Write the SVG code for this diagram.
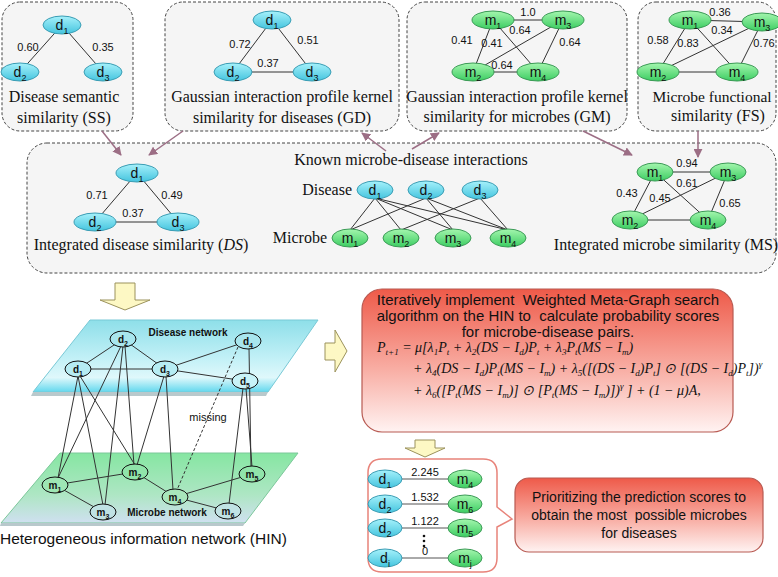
<svg xmlns="http://www.w3.org/2000/svg" width="778" height="577" viewBox="0 0 778 577">
<defs>
<linearGradient id="cy" x1="0" y1="0" x2="0" y2="1"><stop offset="0" stop-color="#a6f1fb"/><stop offset="1" stop-color="#44c4de"/></linearGradient>
<linearGradient id="gr" x1="0" y1="0" x2="0" y2="1"><stop offset="0" stop-color="#a4f6ae"/><stop offset="1" stop-color="#3ccd62"/></linearGradient>
<linearGradient id="dplane" x1="0" y1="0" x2="0" y2="1"><stop offset="0" stop-color="#8edfe9"/><stop offset="0.55" stop-color="#c4f1f7"/><stop offset="0.8" stop-color="#dff8fb"/><stop offset="1" stop-color="#62d8ee"/></linearGradient>
<linearGradient id="mplane" x1="0" y1="0" x2="0" y2="1"><stop offset="0" stop-color="#86e6a2"/><stop offset="0.6" stop-color="#aee6c4"/><stop offset="1" stop-color="#cfe0f0"/></linearGradient>
<linearGradient id="red" x1="0" y1="0" x2="0" y2="1"><stop offset="0" stop-color="#ee5a49"/><stop offset="0.55" stop-color="#f8aca2"/><stop offset="1" stop-color="#fff3f2"/></linearGradient>
<marker id="ah" viewBox="0 0 10 10" refX="9" refY="5" markerWidth="9" markerHeight="9" markerUnits="userSpaceOnUse" orient="auto"><path d="M0,0 L10,5 L0,10 Z" fill="#9c6e85"/></marker>
<style>
.box{fill:#f5f5f5;stroke:#444;stroke-width:1;stroke-dasharray:3 2}
.dn{fill:url(#cy);stroke:#3a9db4;stroke-width:1}
.mn{fill:url(#gr);stroke:#3a9a55;stroke-width:1}
.e{stroke:#333;stroke-width:1;fill:none}
.nl{font-family:"Liberation Sans",Arial,sans-serif;font-size:14px;text-anchor:middle;fill:#111}
.sb{font-size:9px;baseline-shift:-4px}
.w{font-family:"Liberation Sans",Arial,sans-serif;font-size:11px;fill:#111;text-anchor:middle}
.cap{font-family:"Liberation Serif","Times New Roman",serif;font-size:16px;text-anchor:middle;fill:#111}
.arr{stroke:#9c6e85;stroke-width:1.5;fill:none;marker-end:url(#ah)}
.ya{fill:#fdf8c4;stroke:#9b925c;stroke-width:1}
.hn{stroke:#111;stroke-width:1}
.hl{font-family:"Liberation Sans",Arial,sans-serif;font-size:10px;font-weight:bold;text-anchor:middle;fill:#111}
.hs{font-size:7px;baseline-shift:-3px}
.bt{font-family:"Liberation Sans",Arial,sans-serif;font-size:15px;text-anchor:middle;fill:#111;white-space:pre}
.mt{font-family:"Liberation Serif","Times New Roman",serif;font-style:italic;font-size:14px;fill:#111}
.ms{font-size:9px;baseline-shift:-3px}
.su{font-size:9px;baseline-shift:6px}
</style>
</defs>
<rect width="778" height="577" fill="#ffffff"/>

<!-- top boxes -->
<g id="box-ss"><rect class="box" x="2" y="2" width="131" height="129" rx="18"/>
<text class="cap" x="64" y="102">Disease semantic</text><text class="cap" x="64" y="123">similarity (SS)</text></g>
<g id="box-gd"><rect class="box" x="165" y="2" width="234" height="129" rx="18"/>
<text class="cap" x="282" y="102">Gaussian interaction profile kernel</text><text class="cap" x="282" y="123">similarity for diseases (GD)</text></g>
<g id="box-gm"><rect class="box" x="407" y="2" width="220" height="129" rx="18"/>
<text class="cap" x="517" y="102">Gaussian interaction profile kernel</text><text class="cap" x="517" y="122">similarity for microbes (GM)</text></g>
<g id="box-fs"><rect class="box" x="638" y="2" width="138" height="129" rx="18"/>
<text class="cap" x="712" y="102" style="font-size:15.5px">Microbe functional</text><text class="cap" x="718" y="121">similarity (FS)</text></g>
<g id="box-mid"><rect class="box" x="27" y="143" width="749" height="130" rx="20"/>
<text class="cap" x="411" y="165">Known microbe-disease interactions</text>
<text class="cap" x="352" y="195" style="text-anchor:end">Disease</text>
<text class="cap" x="327" y="243" style="text-anchor:end">Microbe</text>
<text class="cap" x="141" y="250">Integrated disease similarity (<tspan font-style="italic">DS</tspan>)</text>
<text class="cap" x="666" y="250">Integrated microbe similarity (MS)</text></g>

<!-- connectors -->
<g id="connectors">
<line class="e" x1="62" y1="25" x2="20" y2="72"/><line class="e" x1="62" y1="25" x2="103" y2="72"/>
<line class="e" x1="272" y1="20" x2="233" y2="72"/><line class="e" x1="272" y1="20" x2="312" y2="72"/><line class="e" x1="233" y1="72" x2="312" y2="72"/>
<line class="e" x1="493" y1="20" x2="563" y2="20"/><line class="e" x1="493" y1="20" x2="473" y2="72"/><line class="e" x1="493" y1="20" x2="538" y2="72"/><line class="e" x1="563" y1="20" x2="473" y2="72"/><line class="e" x1="563" y1="20" x2="538" y2="72"/><line class="e" x1="473" y1="72" x2="538" y2="72"/>
<line class="e" x1="690" y1="20" x2="762" y2="22"/><line class="e" x1="690" y1="20" x2="658" y2="72"/><line class="e" x1="690" y1="20" x2="737" y2="72"/><line class="e" x1="762" y1="22" x2="658" y2="72"/><line class="e" x1="762" y1="22" x2="737" y2="72"/><line class="e" x1="658" y1="72" x2="737" y2="72"/>
<line class="e" x1="137" y1="173" x2="95" y2="222"/><line class="e" x1="137" y1="173" x2="178" y2="222"/><line class="e" x1="95" y1="222" x2="178" y2="222"/>
<line class="e" x1="655" y1="172" x2="728" y2="172"/><line class="e" x1="655" y1="172" x2="630" y2="220"/><line class="e" x1="655" y1="172" x2="708" y2="220"/><line class="e" x1="728" y1="172" x2="630" y2="220"/><line class="e" x1="728" y1="172" x2="708" y2="220"/><line class="e" x1="630" y1="220" x2="708" y2="220"/>
<line class="e" x1="375" y1="198" x2="350" y2="230"/><line class="e" x1="375" y1="198" x2="401" y2="230"/><line class="e" x1="375" y1="198" x2="453" y2="230"/><line class="e" x1="375" y1="198" x2="508" y2="230"/>
<line class="e" x1="426" y1="198" x2="350" y2="230"/><line class="e" x1="426" y1="198" x2="453" y2="230"/><line class="e" x1="426" y1="198" x2="508" y2="230"/>
<line class="e" x1="480" y1="198" x2="401" y2="230"/><line class="e" x1="480" y1="198" x2="508" y2="230"/>
<line class="arr" x1="102" y1="131" x2="121" y2="155"/>
<line class="arr" x1="183" y1="131" x2="149" y2="155"/>
<line class="arr" x1="386" y1="151" x2="362" y2="133"/>
<line class="arr" x1="412" y1="149" x2="439" y2="133"/>
<line class="arr" x1="583" y1="131" x2="632" y2="155"/>
<line class="arr" x1="698" y1="131" x2="698" y2="157"/>
</g>

<!-- edge weights -->
<g id="weights">
<text class="w" x="28" y="51">0.60</text><text class="w" x="103" y="51">0.35</text>
<text class="w" x="240" y="48">0.72</text><text class="w" x="308" y="44">0.51</text><text class="w" x="268" y="67">0.37</text>
<text class="w" x="528" y="16">1.0</text><text class="w" x="520" y="34">0.64</text><text class="w" x="462" y="44">0.41</text><text class="w" x="492" y="47">0.41</text><text class="w" x="570" y="46">0.64</text><text class="w" x="502" y="69">0.64</text>
<text class="w" x="720" y="16">0.36</text><text class="w" x="722" y="34">0.34</text><text class="w" x="658" y="44">0.58</text><text class="w" x="688" y="47">0.83</text><text class="w" x="764" y="47">0.76</text>
<text class="w" x="97" y="199">0.71</text><text class="w" x="172" y="199">0.49</text><text class="w" x="133" y="217">0.37</text>
<text class="w" x="687" y="167">0.94</text><text class="w" x="687" y="187">0.61</text><text class="w" x="627" y="197">0.43</text><text class="w" x="660" y="202">0.45</text><text class="w" x="730" y="207">0.65</text>
</g>

<g id="ss-d1"><ellipse class="dn" cx="62" cy="25" rx="19" ry="9"/><text class="nl" x="62" y="30">d<tspan class="sb">1</tspan></text></g>
<g id="ss-d2"><ellipse class="dn" cx="20" cy="72" rx="19" ry="9"/><text class="nl" x="20" y="77">d<tspan class="sb">2</tspan></text></g>
<g id="ss-d3"><ellipse class="dn" cx="103" cy="72" rx="19" ry="9"/><text class="nl" x="103" y="77">d<tspan class="sb">3</tspan></text></g>
<g id="gd-d1"><ellipse class="dn" cx="272" cy="20" rx="19" ry="9"/><text class="nl" x="272" y="25">d<tspan class="sb">1</tspan></text></g>
<g id="gd-d2"><ellipse class="dn" cx="233" cy="72" rx="19" ry="9"/><text class="nl" x="233" y="77">d<tspan class="sb">2</tspan></text></g>
<g id="gd-d3"><ellipse class="dn" cx="312" cy="72" rx="19" ry="9"/><text class="nl" x="312" y="77">d<tspan class="sb">3</tspan></text></g>
<g id="gm-m1"><ellipse class="mn" cx="493" cy="20" rx="21" ry="9"/><text class="nl" x="493" y="25">m<tspan class="sb">1</tspan></text></g>
<g id="gm-m3"><ellipse class="mn" cx="563" cy="20" rx="21" ry="9"/><text class="nl" x="563" y="25">m<tspan class="sb">3</tspan></text></g>
<g id="gm-m2"><ellipse class="mn" cx="473" cy="72" rx="21" ry="9"/><text class="nl" x="473" y="77">m<tspan class="sb">2</tspan></text></g>
<g id="gm-m4"><ellipse class="mn" cx="538" cy="72" rx="21" ry="9"/><text class="nl" x="538" y="77">m<tspan class="sb">4</tspan></text></g>
<g id="fs-m1"><ellipse class="mn" cx="690" cy="20" rx="21" ry="9"/><text class="nl" x="690" y="25">m<tspan class="sb">1</tspan></text></g>
<g id="fs-m3"><ellipse class="mn" cx="762" cy="22" rx="20" ry="9"/><text class="nl" x="762" y="27">m<tspan class="sb">3</tspan></text></g>
<g id="fs-m2"><ellipse class="mn" cx="658" cy="72" rx="21" ry="9"/><text class="nl" x="658" y="77">m<tspan class="sb">2</tspan></text></g>
<g id="fs-m4"><ellipse class="mn" cx="737" cy="72" rx="21" ry="9"/><text class="nl" x="737" y="77">m<tspan class="sb">4</tspan></text></g>
<g id="ds-d1"><ellipse class="dn" cx="137" cy="173" rx="21" ry="9"/><text class="nl" x="137" y="178">d<tspan class="sb">1</tspan></text></g>
<g id="ds-d2"><ellipse class="dn" cx="95" cy="222" rx="21" ry="9"/><text class="nl" x="95" y="227">d<tspan class="sb">2</tspan></text></g>
<g id="ds-d3"><ellipse class="dn" cx="178" cy="222" rx="21" ry="9"/><text class="nl" x="178" y="227">d<tspan class="sb">3</tspan></text></g>
<g id="kn-d1"><ellipse class="dn" cx="375" cy="190" rx="18" ry="9"/><text class="nl" x="375" y="195">d<tspan class="sb">1</tspan></text></g>
<g id="kn-d2"><ellipse class="dn" cx="426" cy="190" rx="18" ry="9"/><text class="nl" x="426" y="195">d<tspan class="sb">2</tspan></text></g>
<g id="kn-d3"><ellipse class="dn" cx="480" cy="190" rx="18" ry="9"/><text class="nl" x="480" y="195">d<tspan class="sb">3</tspan></text></g>
<g id="kn-m1"><ellipse class="mn" cx="350" cy="238" rx="18" ry="9"/><text class="nl" x="350" y="243">m<tspan class="sb">1</tspan></text></g>
<g id="kn-m2"><ellipse class="mn" cx="401" cy="238" rx="18" ry="9"/><text class="nl" x="401" y="243">m<tspan class="sb">2</tspan></text></g>
<g id="kn-m3"><ellipse class="mn" cx="453" cy="238" rx="18" ry="9"/><text class="nl" x="453" y="243">m<tspan class="sb">3</tspan></text></g>
<g id="kn-m4"><ellipse class="mn" cx="508" cy="238" rx="18" ry="9"/><text class="nl" x="508" y="243">m<tspan class="sb">4</tspan></text></g>
<g id="ms-m1"><ellipse class="mn" cx="655" cy="172" rx="18" ry="9"/><text class="nl" x="655" y="177">m<tspan class="sb">1</tspan></text></g>
<g id="ms-m3"><ellipse class="mn" cx="728" cy="172" rx="18" ry="9"/><text class="nl" x="728" y="177">m<tspan class="sb">3</tspan></text></g>
<g id="ms-m2"><ellipse class="mn" cx="630" cy="220" rx="18" ry="9"/><text class="nl" x="630" y="225">m<tspan class="sb">2</tspan></text></g>
<g id="ms-m4"><ellipse class="mn" cx="708" cy="220" rx="18" ry="9"/><text class="nl" x="708" y="225">m<tspan class="sb">4</tspan></text></g>

<polygon id="arrow-down1" class="ya" points="115,283 135,283 135,300 150,300 125,310 100,300 115,300"/>
<polygon id="arrow-right" class="ya" points="325,343 335,343 335,330 347,351 335,372 335,360 325,360"/>
<polygon id="arrow-down2" class="ya" points="415,440 435,440 435,448 445,448 425,457 405,448 415,448"/>

<g id="hin">
<polygon points="90,320 318,320 268,392 33,392" fill="url(#dplane)" stroke="#79c9d6" stroke-width="1"/>
<polygon points="33,392 268,392 266,396 31,396" fill="#b9c9cc"/>
<polygon points="60,453 298,453 245,523 1,523" fill="url(#mplane)" stroke="#7cc79a" stroke-width="1"/>
<polygon points="1,523 245,523 243,526 0,526" fill="#b8c8cc"/>
<text class="hl" x="188" y="336">Disease network</text>
<text class="hl" x="167" y="516">Microbe network</text>
<text x="208" y="421" style="font-family:'Liberation Sans',Arial,sans-serif;font-size:11px;text-anchor:middle;fill:#111">missing</text>
</g>
<g id="hin-connectors">
<line class="e" x1="78" y1="369" x2="123" y2="339"/><line class="e" x1="123" y1="339" x2="165" y2="369"/><line class="e" x1="78" y1="369" x2="165" y2="369"/><line class="e" x1="165" y1="369" x2="248" y2="341"/><line class="e" x1="165" y1="369" x2="245" y2="381"/>
<line class="e" x1="55" y1="485" x2="135" y2="472"/><line class="e" x1="55" y1="485" x2="103" y2="512"/><line class="e" x1="135" y1="472" x2="175" y2="497"/><line class="e" x1="175" y1="497" x2="252" y2="474"/><line class="e" x1="175" y1="497" x2="228" y2="511"/>
<line class="e" x1="78" y1="376" x2="58" y2="478"/><line class="e" x1="78" y1="376" x2="103" y2="505"/><line class="e" x1="80" y1="376" x2="135" y2="465"/>
<line class="e" x1="121" y1="346" x2="58" y2="478"/><line class="e" x1="123" y1="346" x2="105" y2="505"/><line class="e" x1="125" y1="346" x2="134" y2="465"/>
<line class="e" x1="164" y1="376" x2="137" y2="465"/><line class="e" x1="166" y1="376" x2="173" y2="490"/>
<line class="e" x1="249" y1="348" x2="251" y2="467"/><line class="e" x1="246" y1="388" x2="252" y2="467"/><line class="e" x1="243" y1="388" x2="229" y2="504"/>
<line x1="238" y1="347" x2="177" y2="490" stroke="#333" stroke-width="1" stroke-dasharray="3 2"/>
</g>
<g id="hin-nodes">
<g id="h-d1"><ellipse class="hn" cx="78" cy="369" rx="13" ry="8" fill="#b6ecf3"/><text class="hl" x="78" y="373">d<tspan class="hs">1</tspan></text></g>
<g id="h-d2"><ellipse class="hn" cx="123" cy="339" rx="13" ry="8" fill="#a8e6ee"/><text class="hl" x="123" y="343">d<tspan class="hs">2</tspan></text></g>
<g id="h-d3"><ellipse class="hn" cx="165" cy="369" rx="13" ry="8" fill="#b6ecf3"/><text class="hl" x="165" y="373">d<tspan class="hs">3</tspan></text></g>
<g id="h-d4"><ellipse class="hn" cx="248" cy="341" rx="13" ry="8" fill="#a8e6ee"/><text class="hl" x="248" y="345">d<tspan class="hs">4</tspan></text></g>
<g id="h-d5"><ellipse class="hn" cx="245" cy="381" rx="13" ry="8" fill="#c8f3f8"/><text class="hl" x="245" y="385">d<tspan class="hs">5</tspan></text></g>
<g id="h-m1"><ellipse class="hn" cx="55" cy="485" rx="13" ry="8" fill="#9ee6b4"/><text class="hl" x="55" y="489">m<tspan class="hs">1</tspan></text></g>
<g id="h-m2"><ellipse class="hn" cx="135" cy="472" rx="13" ry="8" fill="#90e4aa"/><text class="hl" x="135" y="476">m<tspan class="hs">2</tspan></text></g>
<g id="h-m3"><ellipse class="hn" cx="103" cy="512" rx="13" ry="8" fill="#c0e2e4"/><text class="hl" x="103" y="516">m<tspan class="hs">3</tspan></text></g>
<g id="h-m4"><ellipse class="hn" cx="175" cy="497" rx="13" ry="8" fill="#a8e6bc"/><text class="hl" x="175" y="501">m<tspan class="hs">4</tspan></text></g>
<g id="h-m5"><ellipse class="hn" cx="252" cy="474" rx="13" ry="8" fill="#90e4aa"/><text class="hl" x="252" y="478">m<tspan class="hs">5</tspan></text></g>
<g id="h-m6"><ellipse class="hn" cx="228" cy="511" rx="13" ry="8" fill="#c0e2e4"/><text class="hl" x="228" y="515">m<tspan class="hs">6</tspan></text></g>
</g>
<text x="0" y="544" style="font-family:'Liberation Sans',Arial,sans-serif;font-size:15.5px;fill:#111">Heterogeneous information network (HIN)</text>

<g id="wmg-box">
<rect x="362" y="289" width="371" height="143" rx="20" fill="url(#red)" stroke="#b85a52" stroke-width="1.2"/>
<text class="bt" x="548" y="305" xml:space="preserve">Iteratively implement  Weighted Meta-Graph search</text>
<text class="bt" x="548" y="321" xml:space="preserve">algorithm on the HIN to  calculate probability scores</text>
<text class="bt" x="548" y="337">for microbe-disease pairs.</text>
<text class="mt" x="377" y="352">P<tspan class="ms">t+1</tspan> = μ[λ<tspan class="ms">1</tspan>P<tspan class="ms">t</tspan> + λ<tspan class="ms">2</tspan>(DS − I<tspan class="ms">d</tspan>)P<tspan class="ms">t</tspan> + λ<tspan class="ms">3</tspan>P<tspan class="ms">t</tspan>(MS − I<tspan class="ms">m</tspan>)</text>
<text class="mt" x="413" y="373">+ λ<tspan class="ms">4</tspan>(DS − I<tspan class="ms">d</tspan>)P<tspan class="ms">t</tspan>(MS − I<tspan class="ms">m</tspan>) + λ<tspan class="ms">5</tspan>([(DS − I<tspan class="ms">d</tspan>)P<tspan class="ms">t</tspan>] ⊙ [(DS − I<tspan class="ms">d</tspan>)P<tspan class="ms">t</tspan>])<tspan class="su">γ</tspan></text>
<text class="mt" x="413" y="395">+ λ<tspan class="ms">6</tspan>([P<tspan class="ms">t</tspan>(MS − I<tspan class="ms">m</tspan>)] ⊙ [P<tspan class="ms">t</tspan>(MS − I<tspan class="ms">m</tspan>)])<tspan class="su">γ</tspan> ] + (1 − μ)A,</text>
</g>

<g id="rank-list">
<path d="M382,459 H483 Q497,459 497,473 V507 L512,519 L497,527 V558 Q497,572 483,572 H382 Q368,572 368,558 V473 Q368,459 382,459 Z" fill="#ffffff" stroke="#e8837a" stroke-width="1.5"/>
<line x1="400" y1="479" x2="450" y2="479" stroke="#555" stroke-width="1"/>
<line x1="400" y1="504" x2="450" y2="504" stroke="#555" stroke-width="1"/>
<line x1="400" y1="528" x2="450" y2="528" stroke="#555" stroke-width="1"/>
<line x1="400" y1="558" x2="450" y2="558" stroke="#555" stroke-width="1"/>
<text class="w" x="425" y="476">2.245</text>
<text class="w" x="425" y="501">1.532</text>
<text class="w" x="425" y="525">1.122</text>
<text class="w" x="425" y="555">0</text>
<circle cx="424" cy="536" r="1.3" fill="#111"/><circle cx="424" cy="541" r="1.3" fill="#111"/><circle cx="424" cy="546" r="1.3" fill="#111"/>
<g id="r1-d1"><ellipse class="dn" cx="385" cy="479" rx="17" ry="9"/><text class="nl" x="385" y="484">d<tspan class="sb">1</tspan></text></g>
<g id="r1-m4"><ellipse class="mn" cx="465" cy="479" rx="17" ry="9"/><text class="nl" x="465" y="484">m<tspan class="sb">4</tspan></text></g>
<g id="r2-d2"><ellipse class="dn" cx="385" cy="504" rx="17" ry="9"/><text class="nl" x="385" y="509">d<tspan class="sb">2</tspan></text></g>
<g id="r2-m6"><ellipse class="mn" cx="465" cy="504" rx="17" ry="9"/><text class="nl" x="465" y="509">m<tspan class="sb">6</tspan></text></g>
<g id="r3-d2"><ellipse class="dn" cx="385" cy="528" rx="17" ry="9"/><text class="nl" x="385" y="533">d<tspan class="sb">2</tspan></text></g>
<g id="r3-m5"><ellipse class="mn" cx="465" cy="528" rx="17" ry="9"/><text class="nl" x="465" y="533">m<tspan class="sb">5</tspan></text></g>
<g id="r4-di"><ellipse class="dn" cx="385" cy="558" rx="17" ry="9"/><text class="nl" x="385" y="563">d<tspan class="sb">i</tspan></text></g>
<g id="r4-mj"><ellipse class="mn" cx="465" cy="558" rx="17" ry="9"/><text class="nl" x="465" y="563">m<tspan class="sb">j</tspan></text></g>
</g>

<g id="prioritize-box">
<rect x="515" y="478" width="248" height="74" rx="14" fill="url(#red)" stroke="#b85a52" stroke-width="1.2"/>
<text class="bt" x="639" y="502" style="font-size:14px">Prioritizing the prediction scores to</text>
<text class="bt" x="639" y="520" style="font-size:14px" xml:space="preserve">obtain the most  possible microbes</text>
<text class="bt" x="639" y="538" style="font-size:14px">for diseases</text>
</g>
</svg>
